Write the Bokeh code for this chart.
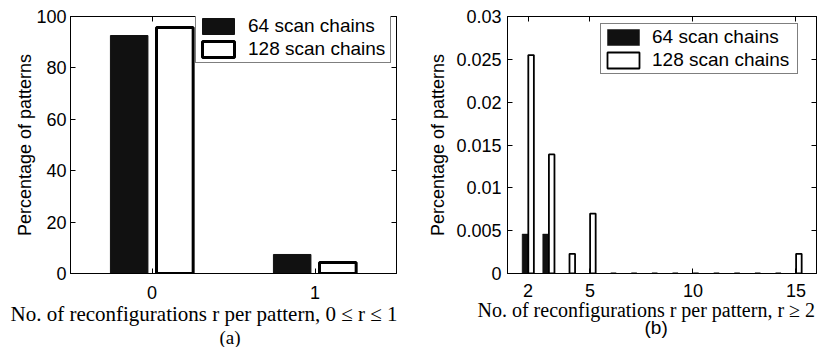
from bokeh.plotting import figure
from bokeh.models import (FixedTicker, LinearAxis, Range1d, Legend, LegendItem,
                          Title, ColumnDataSource, CustomJSTickFormatter)
from bokeh.transform import dodge
from bokeh.layouts import row
from bokeh.embed import file_html
from bokeh.resources import INLINE

# ---------------- data ----------------
series_names = ["64 scan chains", "128 scan chains"]

# panel (a): 0 <= r <= 1
r_a = [0, 1]
pct64_a = [92.6, 7.4]
pct128_a = [95.7, 4.3]
xticks_a = [0, 1]
yticks_a = [0, 20, 40, 60, 80, 100]

# panel (b): r >= 2
r_b = [2, 3, 4, 5, 6, 7, 8, 9, 10, 11, 12, 13, 14, 15]
pct64_b = [0.0046, 0.0046, 0, 0, 0, 0, 0, 0, 0, 0, 0, 0, 0, 0]
pct128_b = [0.0255, 0.0139, 0.0023, 0.0070, 0, 0, 0, 0, 0, 0, 0, 0, 0, 0.0023]
xticks_b = [2, 5, 10, 15]
yticks_b = [0, 0.005, 0.01, 0.015, 0.02, 0.025, 0.03]

ylabel = "Percentage of patterns"
xlabel_a = "No. of reconfigurations r per pattern, 0 \u2264 r \u2264 1"
xlabel_b = "No. of reconfigurations r per pattern, r \u2265 2"
caption_a = "(a)"
caption_b = "(b)"

SANS = "Liberation Sans"
SERIF = "Liberation Serif"
BLACK_FILL = "#111111"


def style_axis(ax, label_standoff):
    ax.axis_line_color = "black"
    ax.axis_line_width = 1
    ax.major_tick_line_color = "black"
    ax.major_tick_in = 5
    ax.major_tick_out = 0
    ax.minor_tick_line_color = None
    ax.major_label_text_font = SANS
    ax.major_label_text_font_size = "18px"
    ax.major_label_text_color = "black"
    ax.major_label_standoff = label_standoff


def make_fig(width, xr, yr, borders, xticks, yticks, xstand, ystand, ylab_stand):
    left, right, top, bottom = borders
    p = figure(width=width, height=347, x_range=xr, y_range=yr,
               output_backend="svg", toolbar_location=None,
               min_border_left=left, min_border_right=right,
               min_border_top=top, min_border_bottom=bottom)
    p.grid.visible = False
    p.outline_line_color = "black"
    p.background_fill_color = "white"
    p.border_fill_color = "white"
    p.xaxis.ticker = FixedTicker(ticks=xticks)
    p.yaxis.ticker = FixedTicker(ticks=yticks)
    style_axis(p.xaxis[0], xstand)
    style_axis(p.yaxis[0], ystand)
    p.yaxis.axis_label = ylabel
    p.yaxis.axis_label_text_font = SANS
    p.yaxis.axis_label_text_font_size = "18px"
    p.yaxis.axis_label_text_font_style = "normal"
    p.yaxis.axis_label_text_color = "black"
    p.yaxis.axis_label_standoff = ylab_stand
    # box-style tick marks on top and right (no labels)
    top_ax = LinearAxis(ticker=FixedTicker(ticks=xticks))
    right_ax = LinearAxis(ticker=FixedTicker(ticks=yticks))
    for ax in (top_ax, right_ax):
        style_axis(ax, 0)
        ax.formatter = CustomJSTickFormatter(code="return '';")
        ax.major_label_text_font_size = "1px"
    p.add_layout(top_ax, "above")
    p.add_layout(right_ax, "right")
    return p


def add_legend(p, r1, r2, loc, standoff, lw):
    leg = Legend(items=[LegendItem(label=series_names[0], renderers=[r1]),
                        LegendItem(label=series_names[1], renderers=[r2])],
                 location=loc, padding=2, spacing=1, margin=0,
                 glyph_width=40, glyph_height=20, label_height=22,
                 label_standoff=standoff, label_width=lw,
                 border_line_color="black", border_line_width=1,
                 background_fill_color="white", background_fill_alpha=1,
                 label_text_font=SANS, label_text_font_size="19px",
                 label_text_color="black")
    p.add_layout(leg)


def add_captions(p, text1, size1, off1, stand1, text2, off2, stand2, font2):
    t1 = Title(text=text1, align="left", offset=off1, standoff=stand1,
               text_font=SERIF, text_font_size=size1,
               text_font_style="normal", text_color="black")
    t2 = Title(text=text2, align="left", offset=off2, standoff=stand2,
               text_font=font2, text_font_size="19px",
               text_font_style="normal", text_color="black")
    p.add_layout(t1, "below")
    p.add_layout(t2, "below")


# ---------------- panel (a) ----------------
src_a = ColumnDataSource(dict(r=r_a, p64=pct64_a, p128=pct128_a))
pa = make_fig(410, Range1d(-0.5, 1.5), Range1d(0, 100), (70, 14, 16, 69),
              xticks_a, yticks_a, 12, 4, -2)
ra1 = pa.vbar(x=dodge("r", -0.14, range=pa.x_range), top="p64", width=0.23,
              source=src_a, fill_color=BLACK_FILL, line_color=BLACK_FILL,
              line_width=1)
ra2 = pa.vbar(x=dodge("r", 0.14, range=pa.x_range), top="p128", width=0.225,
              source=src_a, fill_color="white", line_color="black",
              line_width=3)
add_legend(pa, ra1, ra2, (125, 210), 10, 140)
add_captions(pa, xlabel_a, "21px", -60, -3, caption_a, 149, 0, SERIF)

# ---------------- panel (b) ----------------
src_b = ColumnDataSource(dict(r=r_b, p64=pct64_b, p128=pct128_b))
pb = make_fig(417, Range1d(1, 16), Range1d(0, 0.03), (97, 11, 16, 72),
              xticks_b, yticks_b, 10, 6, 5)
pb.yaxis[0].formatter = CustomJSTickFormatter(code="return tick.toString();")
rb1 = pb.vbar(x=dodge("r", -0.145, range=pb.x_range), top="p64", width=0.29,
              source=src_b, fill_color=BLACK_FILL, line_color=BLACK_FILL,
              line_width=0.5)
rb2 = pb.vbar(x=dodge("r", 0.145, range=pb.x_range), top="p128", width=0.27,
              source=src_b, fill_color="white", line_color="black",
              line_width=1.8)
add_legend(pb, rb1, rb2, (93, 199), 9, 143)
add_captions(pb, xlabel_b, "20px", -30, -6, caption_b, 137, -5, SANS)

layout = row(pa, pb)
open("out.html", "w").write(file_html(layout, INLINE))
